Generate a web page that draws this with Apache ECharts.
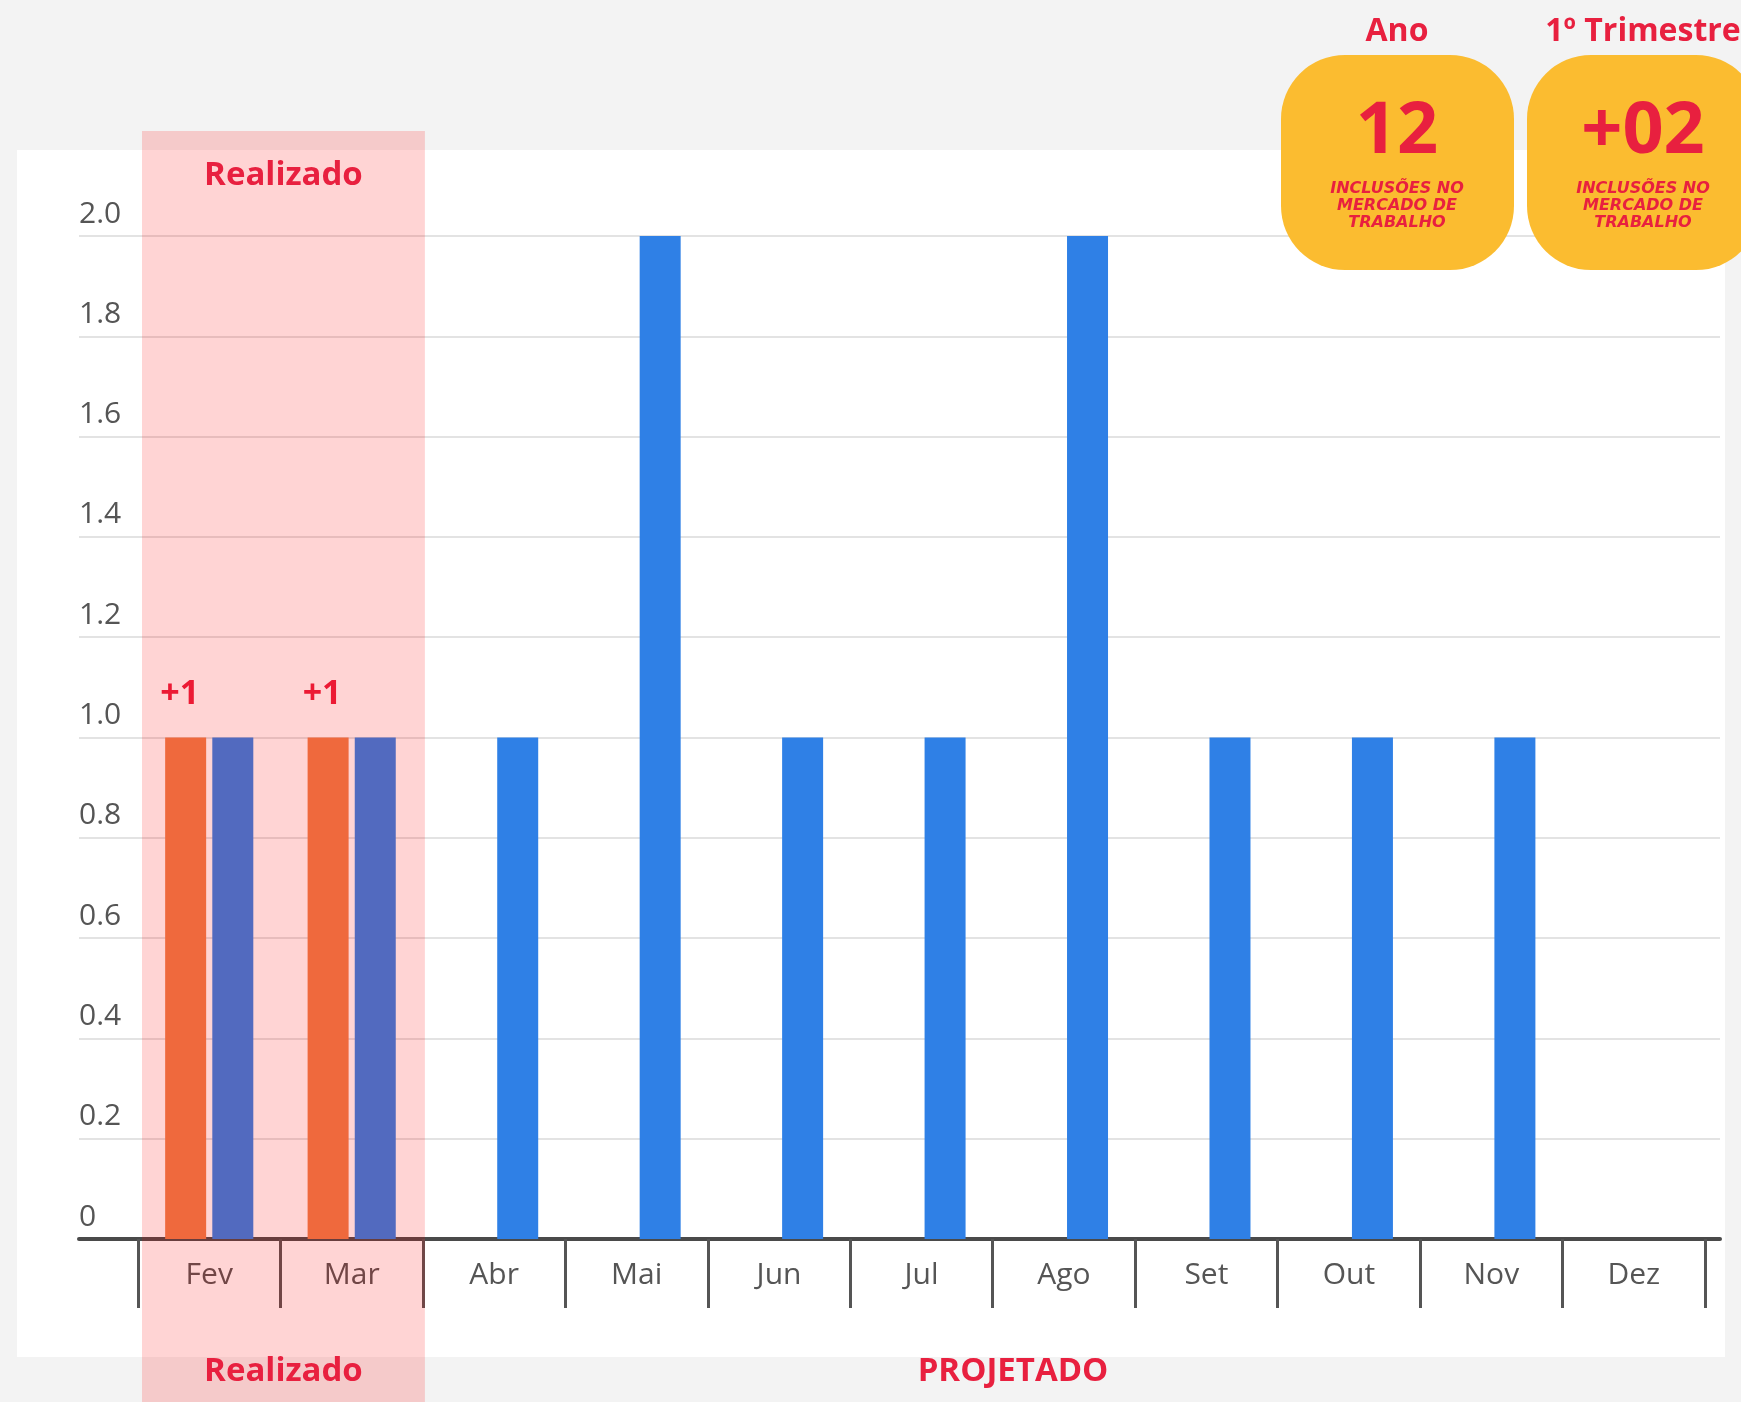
<!DOCTYPE html>
<html>
<head>
<meta charset="utf-8">
<script src="https://cdn.jsdelivr.net/npm/echarts@6/dist/echarts.min.js"></script>
<style>
  html, body { margin: 0; padding: 0; background: #f3f3f3; }
  #chart { width: 1741px; height: 1402px; }
</style>
</head>
<body>
<div id="chart"></div>
<script>
// dados
var months = ['Fev', 'Mar', 'Abr', 'Mai', 'Jun', 'Jul', 'Ago', 'Set', 'Out', 'Nov', 'Dez']
var realizado = [1, 1, null, null, null, null, null, null, null, null, null]
var projetado = [1, 1, 1, 2, 1, 1, 2, 1, 1, 1, 0]
var realizadoMonths = ['Fev', 'Mar']
var yMax = 2
var yStep = 0.2
var cardTitles = ['Ano', '1º Trimestre']
var cardValues = ['12', '+02']
var cardText = 'INCLUSÕES NO\nMERCADO DE\nTRABALHO'

var red = '#e8203f'
var titleFont = '"Open Sans", "Noto Sans", sans-serif'
var axisFont = '"Open Sans", "Noto Sans", sans-serif'

var myChart = echarts.init(document.getElementById('chart'))

var cardX = [1281, 1527]
var cardGraphics = []
for (var i = 0; i < cardTitles.length; i++) {
    var cx = cardX[i] + 116
    cardGraphics.push({
        type: 'rect', z: 5,
        shape: { x: cardX[i], y: 55, width: 233, height: 215, r: 64 },
        style: { fill: '#fbbc30' }
    })
    cardGraphics.push({
        type: 'text', z: 6, x: cx, y: 32,
        style: { text: cardTitles[i], fill: red, fontSize: 32, fontWeight: 'bold', fontFamily: titleFont, align: 'center', verticalAlign: 'middle' }
    })
    cardGraphics.push({
        type: 'text', z: 6, x: cx, y: 132,
        style: { text: cardValues[i], fill: red, fontSize: 72, fontWeight: 'bold', fontFamily: titleFont, align: 'center', verticalAlign: 'middle' }
    })
    cardGraphics.push({
        type: 'text', z: 6, x: cx, y: 206,
        style: { text: cardText, fill: red, fontSize: 16, fontWeight: 'bold', fontStyle: 'italic', lineHeight: 17, fontFamily: '"DejaVu Sans", sans-serif', align: 'center', verticalAlign: 'middle' }
    })
}

var option = {
    animation: false,
    backgroundColor: 'transparent',
    grid: [
        { left: 79, right: 21, top: 236, bottom: 163 },   // linhas de grade + eixo
        { left: 138, right: 36, top: 236, bottom: 163 }   // barras
    ],
    xAxis: [
        {
            gridIndex: 0, type: 'category', data: [''],
            axisLine: { show: true, lineStyle: { color: '#4a4a4a', width: 4 } },
            axisTick: { show: false },
            axisLabel: { show: false }
        },
        {
            gridIndex: 1, type: 'category', data: months,
            axisLine: { show: false },
            axisTick: { show: true, length: 69, lineStyle: { color: '#555', width: 3 } },
            axisLabel: { margin: 21, fontSize: 30, color: '#555', fontFamily: axisFont }
        }
    ],
    yAxis: [
        {
            gridIndex: 0, type: 'value', min: 0, max: yMax, interval: yStep,
            axisLine: { show: false },
            axisTick: { show: false },
            splitLine: { lineStyle: { color: '#e3e3e3', width: 2 } },
            axisLabel: {
                inside: true, margin: 0, align: 'left', verticalAlign: 'bottom',
                padding: [0, 0, 7, 0],
                fontSize: 30, color: '#555', fontFamily: axisFont,
                formatter: function (v) { return v === 0 ? '0' : v.toFixed(1) }
            }
        },
        {
            gridIndex: 1, type: 'value', min: 0, max: yMax, interval: yStep,
            show: false
        }
    ],
    series: [
        {
            name: 'Realizado',
            type: 'bar',
            xAxisIndex: 1, yAxisIndex: 1,
            barWidth: 41,
            barGap: '15%',
            itemStyle: { color: '#ec7f4a' },
            label: {
                show: true, position: 'top', distance: 26, offset: [-6, 0],
                formatter: '+{c}', color: red, fontSize: 34, fontWeight: 'bold', fontFamily: titleFont
            },
            data: realizado
        },
        {
            name: 'Projetado',
            type: 'bar',
            xAxisIndex: 1, yAxisIndex: 1,
            barWidth: 41,
            itemStyle: { color: '#2f80e6' },
            data: projetado
        }
    ],
    graphic: [
        {
            type: 'rect', z: -10,
            shape: { x: 17, y: 150, width: 1708, height: 1207 },
            style: { fill: '#ffffff' }
        }
    ]
}
myChart.setOption(option)

// faixa "Realizado" calculada pelo eixo
var p0 = myChart.convertToPixel({ xAxisIndex: 1 }, realizadoMonths[0])
var p1 = myChart.convertToPixel({ xAxisIndex: 1 }, realizadoMonths[realizadoMonths.length - 1])
var step = myChart.convertToPixel({ xAxisIndex: 1 }, months[1]) - myChart.convertToPixel({ xAxisIndex: 1 }, months[0])
var bandLeft = p0 - step / 2 + 4
var bandRight = p1 + step / 2 + 2
var bandMid = (bandLeft + bandRight) / 2

var extra = [
    {
        type: 'rect', z: 100,
        shape: { x: bandLeft, y: 131, width: bandRight - bandLeft, height: 1402 - 131 },
        style: { fill: 'rgba(255,0,0,0.17)' }
    },
    {
        type: 'text', z: 101, x: bandMid, y: 176,
        style: { text: 'Realizado', fill: red, fontSize: 33, fontWeight: 'bold', fontFamily: titleFont, align: 'center', verticalAlign: 'middle' }
    },
    {
        type: 'text', z: 101, x: bandMid, y: 1372,
        style: { text: 'Realizado', fill: red, fontSize: 33, fontWeight: 'bold', fontFamily: titleFont, align: 'center', verticalAlign: 'middle' }
    },
    {
        type: 'text', z: 101, x: 1013, y: 1372,
        style: { text: 'PROJETADO', fill: red, fontSize: 33, fontWeight: 'bold', fontFamily: titleFont, align: 'center', verticalAlign: 'middle' }
    }
]
myChart.setOption({ graphic: option.graphic.concat(extra, cardGraphics) })
</script>
</body>
</html>
